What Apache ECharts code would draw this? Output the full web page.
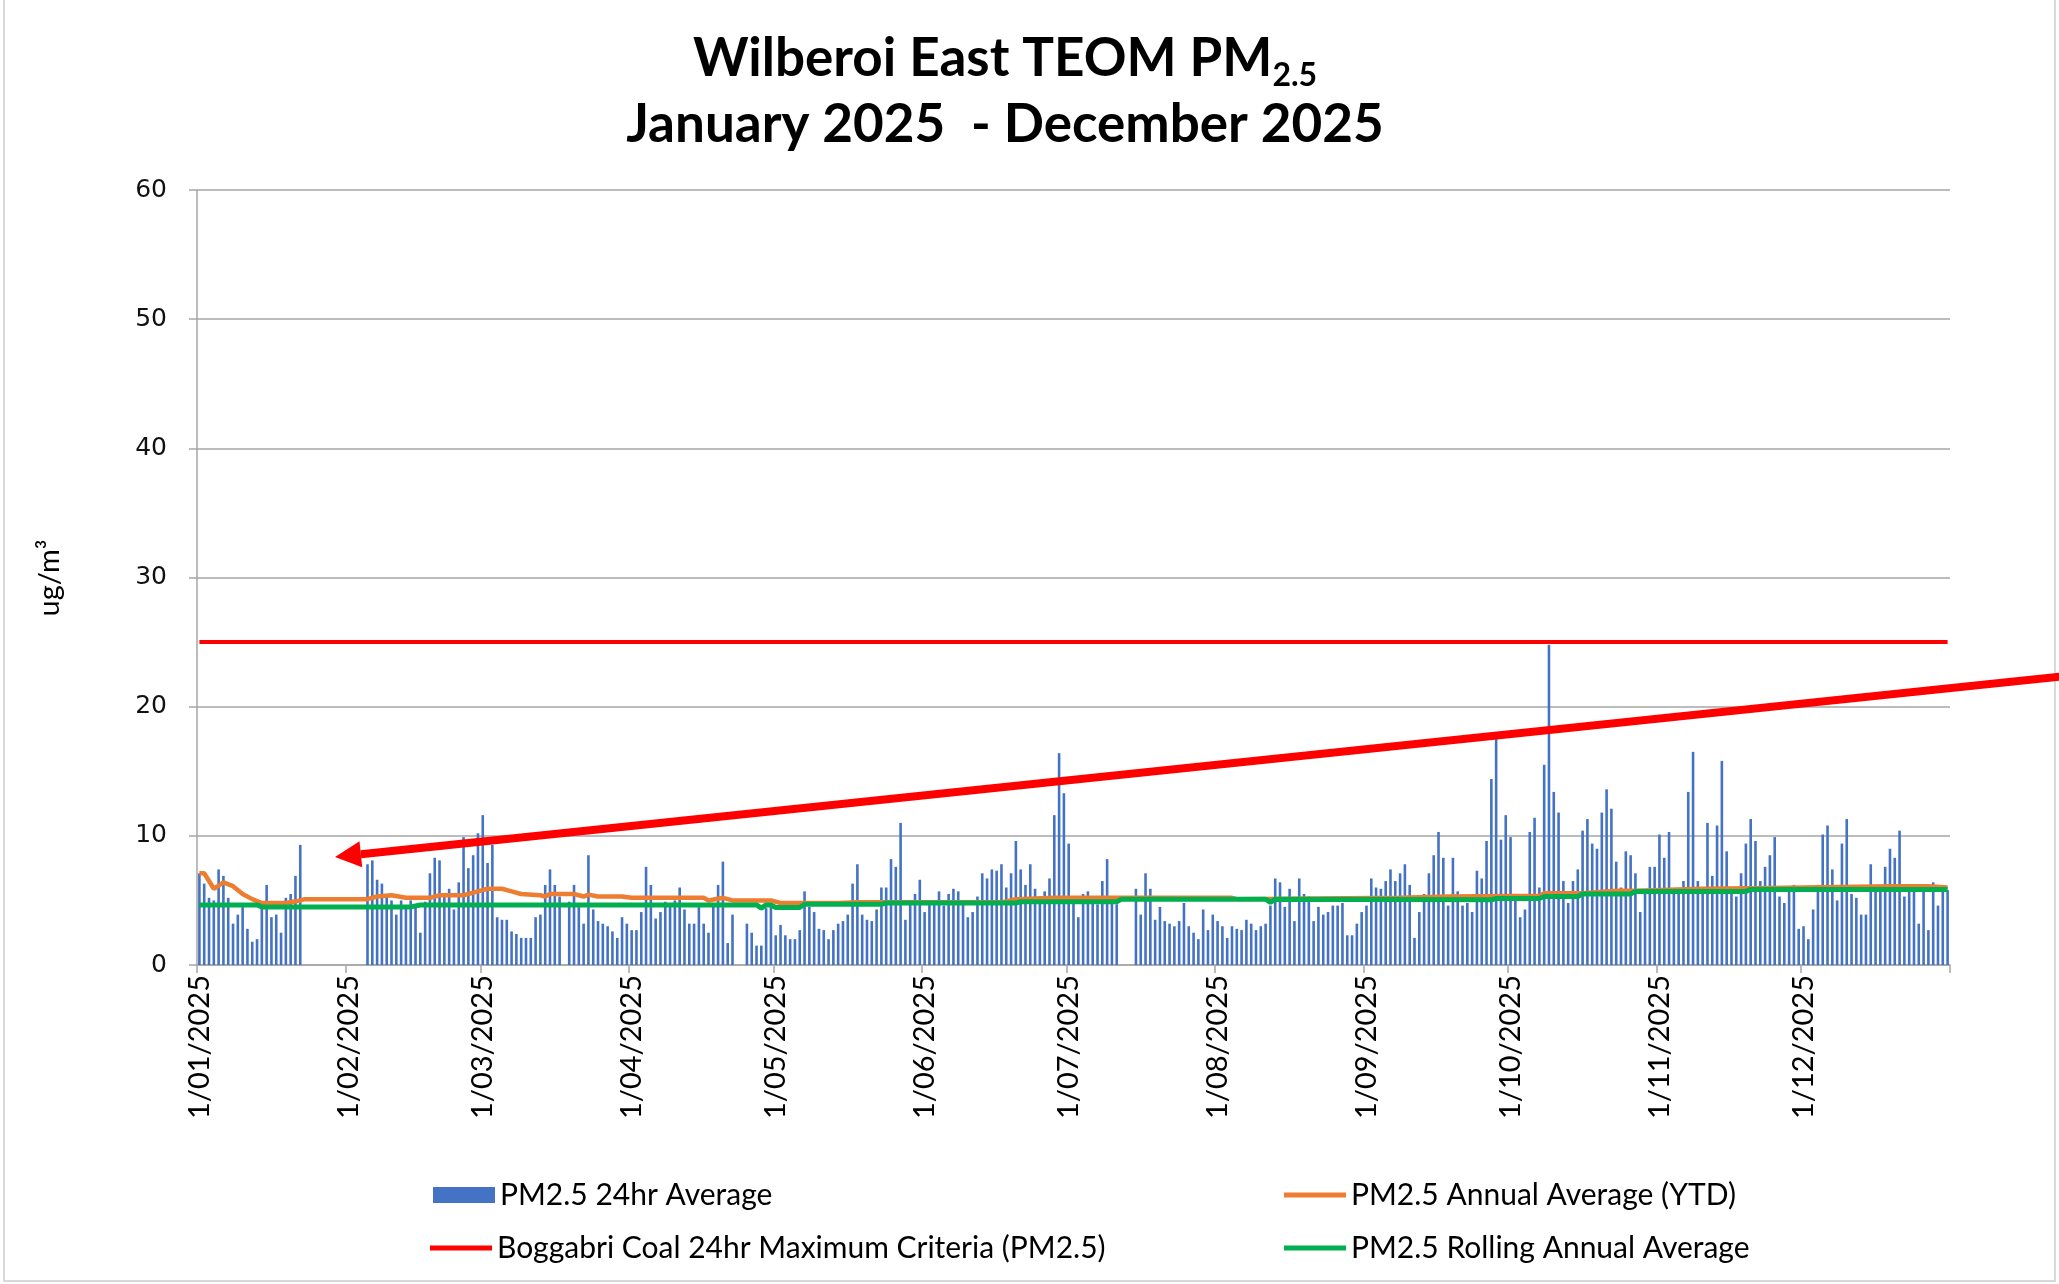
<!DOCTYPE html>
<html><head><meta charset="utf-8">
<script src="https://cdn.jsdelivr.net/npm/echarts@6/dist/echarts.min.js"></script>
<style>html,body{margin:0;padding:0;background:#fff}#c{width:2059px;height:1284px}</style>
</head><body><div id="c"></div>
<script>
// ---- categories (every day of 2025) ----
const monthLengths = [31,28,31,30,31,30,31,31,30,31,30,31];
const categories = [];
monthLengths.forEach((n, m) => { for (let d = 1; d <= n; d++) categories.push(d + '/' + String(m + 1).padStart(2, '0') + '/2025'); });

// ---- PM2.5 24hr average (ug/m3), null = no data ----
const jan = [7.1,6.3,5.2,5.0,7.4,6.9,5.2,3.2,3.9,4.5,2.8,1.8,2.0,4.7,6.2,3.7,3.9,2.5,5.2,5.5,6.9,9.3,null,null,null,null,null,null,null,null,null];
const feb = [null,null,null,null,7.8,8.1,6.6,6.3,5.3,5.0,3.9,5.0,4.6,5.0,4.5,2.5,4.9,7.1,8.3,8.1,5.5,5.9,4.3,6.4,9.9,7.5,8.5,10.2];
const mar = [11.6,7.9,9.3,3.7,3.5,3.5,2.6,2.4,2.1,2.1,2.1,3.7,3.9,6.2,7.4,6.2,5.3,null,4.9,6.2,4.5,3.2,8.5,4.3,3.4,3.2,3.0,2.6,2.1,3.7,3.2];
const apr = [2.7,2.7,4.1,7.6,6.2,3.6,4.1,4.9,4.5,5.0,6.0,4.3,3.2,3.2,4.5,3.2,2.5,4.6,6.2,8.0,1.7,3.9,null,null,3.2,2.5,1.5,1.5,4.4,4.5];
const may = [2.3,3.1,2.3,2.0,2.0,2.7,5.7,4.5,4.1,2.8,2.7,2.0,2.7,3.2,3.4,3.9,6.3,7.8,3.9,3.5,3.4,4.3,6.0,6.0,8.2,7.6,11.0,3.5,4.9,5.5,6.6];
const jun = [4.1,4.7,4.8,5.7,4.6,5.5,5.9,5.7,4.8,3.7,4.1,5.3,7.1,6.7,7.4,7.3,7.8,6.0,7.1,9.6,7.4,6.2,7.8,5.9,4.8,5.7,6.7,11.6,16.4,13.3];
const jul = [9.4,4.9,3.7,5.5,5.7,4.8,4.7,6.5,8.2,4.9,4.7,null,null,null,5.9,3.9,7.1,5.9,3.5,4.5,3.4,3.2,3.0,3.4,4.8,3.0,2.5,2.0,4.3,2.7,3.9];
const aug = [3.4,3.0,2.1,3.0,2.8,2.7,3.5,3.2,2.7,3.0,3.2,4.6,6.7,6.4,4.5,5.9,3.4,6.7,5.5,5.3,3.4,4.5,3.9,4.1,4.6,4.6,4.8,2.3,2.3,3.2,4.1];
const sep = [4.6,6.7,6.0,5.9,6.5,7.4,6.5,7.1,7.8,6.2,2.1,4.1,5.5,7.1,8.5,10.3,8.3,4.6,8.3,5.7,4.6,4.8,4.1,7.3,6.7,9.6,14.4,17.6,9.7,11.6];
const oct = [9.9,5.5,3.7,4.3,10.3,11.4,6.0,15.5,24.8,13.4,11.8,6.5,4.8,6.5,7.4,10.4,11.3,9.4,9.0,11.8,13.6,12.1,8.0,6.0,8.8,8.5,7.1,4.1,5.8,7.6,7.6];
const nov = [10.1,8.3,10.3,5.9,5.9,6.5,13.4,16.5,6.5,5.9,11.0,6.9,10.8,15.8,8.8,5.8,5.3,7.1,9.4,11.3,9.6,6.5,7.6,8.5,9.9,5.3,4.8,5.9,6.2,2.8];
const dec = [3.0,2.0,4.3,6.2,10.1,10.8,7.4,5.0,9.4,11.3,5.5,5.2,3.9,3.9,7.8,5.8,5.8,7.6,9.0,8.3,10.4,5.3,5.8,5.8,3.2,5.8,2.7,6.4,4.6,6.2,5.8];
const pm25Daily = [].concat(jan, feb, mar, apr, may, jun, jul, aug, sep, oct, nov, dec);

// ---- Annual average (YTD), values read at dates where the line changes ----
const ytdDates = ['1/01/2025','2/01/2025','4/01/2025','6/01/2025','8/01/2025','10/01/2025','12/01/2025','14/01/2025','19/01/2025','22/01/2025','23/01/2025',
  '5/02/2025','7/02/2025','10/02/2025','13/02/2025','18/02/2025','20/02/2025','25/02/2025','28/02/2025',
  '2/03/2025','5/03/2025','7/03/2025','9/03/2025','13/03/2025','14/03/2025','15/03/2025','20/03/2025','22/03/2025','23/03/2025','25/03/2025','30/03/2025',
  '1/04/2025','16/04/2025','17/04/2025','20/04/2025','22/04/2025','30/04/2025','2/05/2025','14/05/2025','18/05/2025',
  '17/06/2025','20/06/2025','28/06/2025','4/08/2025','5/08/2025','8/09/2025','18/09/2025',
  '1/10/2025','7/10/2025','8/10/2025','16/10/2025','23/10/2025','27/10/2025','10/11/2025','20/11/2025','19/12/2025','27/12/2025','31/12/2025'];
const ytdValues = [7.1,7.1,5.9,6.4,6.1,5.5,5.1,4.8,4.8,5.0,5.1,
  5.1,5.3,5.4,5.2,5.2,5.4,5.4,5.7,
  5.9,5.9,5.7,5.5,5.4,5.3,5.5,5.5,5.3,5.45,5.3,5.3,
  5.2,5.2,5.0,5.2,5.0,5.0,4.8,4.8,4.85,
  4.85,5.1,5.2,5.2,5.1,5.2,5.3,
  5.35,5.35,5.55,5.55,5.75,5.75,5.9,5.95,6.1,6.1,6.0];

// ---- Rolling annual average ----
const rollDates = ['1/01/2025','13/01/2025','14/01/2025','14/02/2025','16/02/2025','27/04/2025','28/04/2025','29/04/2025','30/04/2025','1/05/2025','6/05/2025','7/05/2025',
  '23/05/2025','24/05/2025','20/06/2025','21/06/2025','11/07/2025','12/07/2025','11/08/2025','12/08/2025','13/08/2025','27/09/2025','28/09/2025',
  '7/10/2025','8/10/2025','15/10/2025','16/10/2025','26/10/2025','27/10/2025','19/11/2025','20/11/2025','31/12/2025'];
const rollValues = [4.65,4.65,4.5,4.5,4.65,4.65,4.4,4.65,4.65,4.45,4.45,4.7,
  4.7,4.8,4.8,4.9,4.9,5.1,5.1,4.85,5.1,5.05,5.15,
  5.15,5.3,5.3,5.5,5.5,5.7,5.7,5.85,5.85];

// ---- 24hr maximum criteria ----
const criteriaDates = ['1/01/2025','31/12/2025'];
const criteriaValues = [25, 25];

const yMin = 0, yMax = 60, yStep = 10;

const pair = (d, v) => d.map((x, i) => [x, v[i]]);
const isMonthStart = (idx) => categories[idx].startsWith('1/');

const chart = echarts.init(document.getElementById('c'), null, {renderer: 'canvas'});
const legendText = {fontFamily: 'Lato', fontSize: 30, color: '#000'};
const legendBase = {padding: 0, itemWidth: 62, itemGap: 0, textStyle: legendText, selectedMode: false};

// arrow geometry (annotation)
const tip = [335, 857], tail = [2075, 675];
const dx = tail[0]-tip[0], dy = tail[1]-tip[1], L = Math.hypot(dx, dy);
const ux = dx/L, uy = dy/L, nx = -uy, ny = ux;
const hl = 26, hw = 13;
const bx = tip[0]+ux*hl, by = tip[1]+uy*hl;

chart.setOption({
  backgroundColor: '#fff',
  animation: false,
  grid: {left: 197, top: 190, width: 1753, height: 775, containLabel: false},
  legend: [
    Object.assign({}, legendBase, {data: [{name: 'PM2.5 24hr Average', icon: 'rect'}], itemHeight: 16, left: 433, top: 1180}),
    Object.assign({}, legendBase, {data: [{name: 'PM2.5 Annual Average (YTD)', icon: 'rect'}], itemHeight: 5, left: 1284, top: 1180}),
    Object.assign({}, legendBase, {data: [{name: 'Boggabri Coal 24hr Maximum Criteria (PM2.5)', icon: 'rect'}], itemHeight: 5, left: 430, top: 1233}),
    Object.assign({}, legendBase, {data: [{name: 'PM2.5 Rolling Annual Average', icon: 'rect'}], itemHeight: 5, left: 1284, top: 1233})
  ],
  xAxis: {
    type: 'category', data: categories, boundaryGap: true,
    axisLine: {show: true, lineStyle: {color: '#a6a6a6', width: 1.5}},
    axisTick: {show: true, interval: isMonthStart, length: 8, lineStyle: {color: '#a6a6a6', width: 1.5}},
    axisLabel: {interval: isMonthStart, rotate: 90, margin: 10, fontFamily: 'Lato', fontSize: 29, color: '#000'},
    splitLine: {show: false}
  },
  yAxis: {
    type: 'value', min: yMin, max: yMax, interval: yStep,
    axisLine: {show: true, lineStyle: {color: '#a6a6a6', width: 1.5}},
    axisTick: {show: true, length: 8, lineStyle: {color: '#a6a6a6', width: 1.5}},
    axisLabel: {margin: 30, fontFamily: 'DejaVu Sans', fontSize: 25, color: '#111'},
    splitLine: {show: true, lineStyle: {color: '#a6a6a6', width: 1.5}}
  },
  series: [
    {name: 'PM2.5 24hr Average', type: 'bar', data: pm25Daily, barWidth: 2.6, itemStyle: {color: '#4472C4'}, z: 2},
    {name: 'PM2.5 Annual Average (YTD)', type: 'line', data: pair(ytdDates, ytdValues), symbol: 'none', lineStyle: {color: '#ED7D31', width: 4.5}, itemStyle: {color: '#ED7D31'}, z: 3},
    {name: 'Boggabri Coal 24hr Maximum Criteria (PM2.5)', type: 'line', data: pair(criteriaDates, criteriaValues), symbol: 'none', lineStyle: {color: '#FF0000', width: 4}, itemStyle: {color: '#FF0000'}, z: 4},
    {name: 'PM2.5 Rolling Annual Average', type: 'line', data: pair(rollDates, rollValues), symbol: 'none', lineStyle: {color: '#00B050', width: 5}, itemStyle: {color: '#00B050'}, z: 5}
  ],
  graphic: [
    {type: 'rect', shape: {x: 4, y: -4, width: 2051, height: 1285}, style: {fill: 'none', stroke: '#d9d9d9', lineWidth: 2}, z: -1, silent: true},
    {type: 'text', x: 1005, y: 26, style: {
      text: '{a|Wilberoi East TEOM PM}{s|2.5}\n{a|January 2025  - December 2025}',
      textAlign: 'center', textVerticalAlign: 'top',
      rich: {
        a: {fontFamily: 'Lato', fontWeight: 'bold', fontSize: 53, lineHeight: 66, fill: '#000'},
        s: {fontFamily: 'Lato', fontWeight: 'bold', fontSize: 32, lineHeight: 32, verticalAlign: 'bottom', fill: '#000'}
      }}},
    {type: 'text', x: 50, y: 578, rotation: Math.PI/2, style: {text: 'ug/m³', textAlign: 'center', textVerticalAlign: 'middle', fontFamily: 'Lato', fontSize: 29, fill: '#000'}},
    {type: 'line', z: 100, shape: {x1: bx, y1: by, x2: tail[0], y2: tail[1]}, style: {stroke: '#FF0000', lineWidth: 8}},
    {type: 'polygon', z: 100, shape: {points: [tip, [bx+nx*hw, by+ny*hw], [bx-nx*hw, by-ny*hw]]}, style: {fill: '#FF0000'}}
  ]
});
</script></body></html>
